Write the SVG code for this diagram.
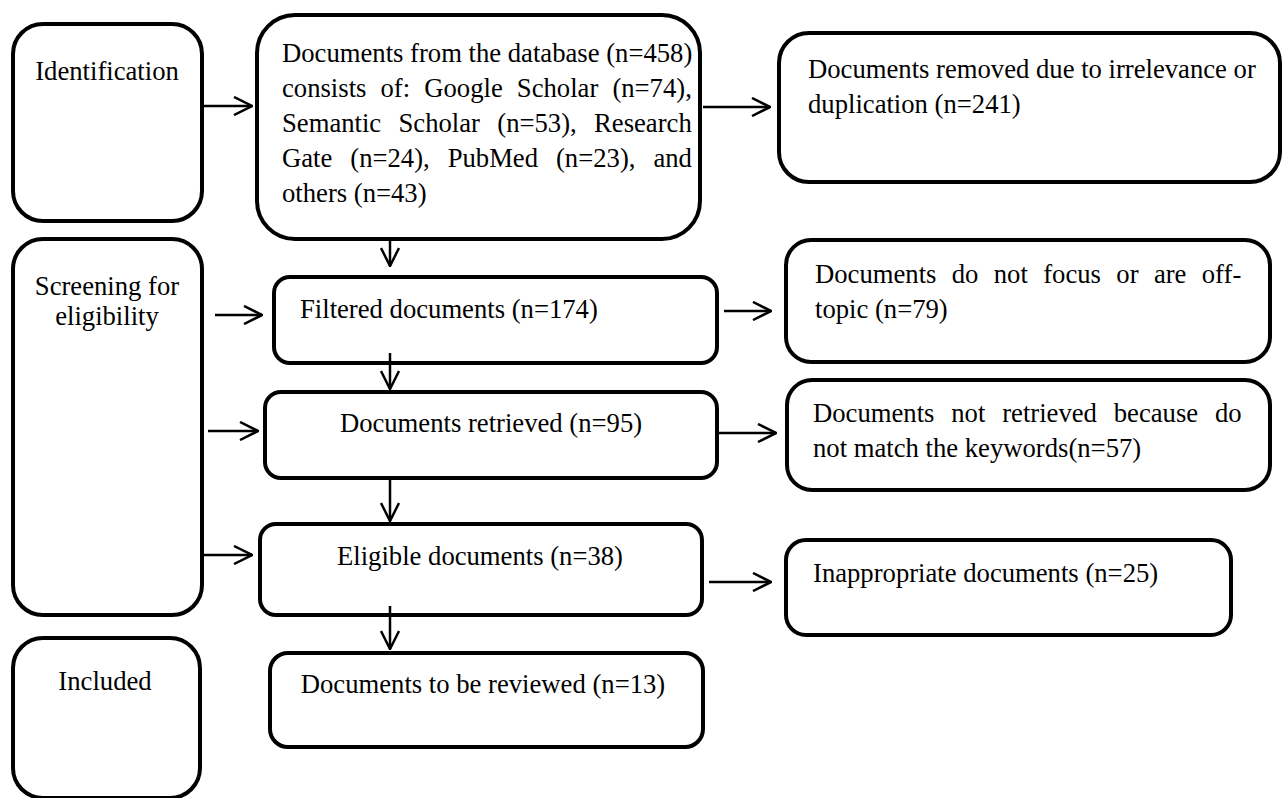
<svg xmlns="http://www.w3.org/2000/svg" width="1282" height="798" viewBox="0 0 1282 798">
<style>
.box{fill:#fff;stroke:#000;stroke-width:4}
.t{font-family:"Liberation Serif","Times New Roman",serif;font-size:26.67px;fill:#000}
.c{text-anchor:middle}
.conn line{stroke:#000;stroke-width:2.5;fill:none;marker-end:url(#ah)}
</style>
<defs>
<marker id="ah" viewBox="0 0 20 20" refX="19" refY="10" markerWidth="20" markerHeight="20" markerUnits="userSpaceOnUse" orient="auto">
<path d="M1,1 L19,10 L1,19" fill="none" stroke="#000" stroke-width="2.5"/>
</marker>
</defs>
<rect width="1282" height="798" fill="#fff"/>
<g id="ident"><rect class="box" x="13" y="24" width="189" height="197" rx="30"/><text class="t c" x="107" y="80">Identification</text></g>
<g id="db"><rect class="box" x="257" y="15" width="443" height="224" rx="38"/>
<text class="t" x="282" y="62">Documents from the database (n=458)</text>
<text class="t" x="282" y="97" word-spacing="7.45">consists of: Google Scholar (n=74),</text>
<text class="t" x="282" y="132" word-spacing="10.67">Semantic Scholar (n=53), Research</text>
<text class="t" x="282" y="167" word-spacing="11.3">Gate (n=24), PubMed (n=23), and</text>
<text class="t" x="282" y="202">others (n=43)</text></g>
<g id="removed"><rect class="box" x="779" y="33" width="501" height="149" rx="30"/>
<text class="t" x="808" y="78">Documents removed due to irrelevance or</text>
<text class="t" x="808" y="113">duplication (n=241)</text></g>
<g id="screening"><rect class="box" x="13" y="239" width="189" height="376" rx="30"/>
<text class="t c" x="107" y="295">Screening for</text><text class="t c" x="107" y="325">eligibility</text></g>
<g id="filtered"><rect class="box" x="274" y="277" width="443" height="86" rx="16"/>
<text class="t" x="300" y="318">Filtered documents (n=174)</text></g>
<g id="focus"><rect class="box" x="786" y="240" width="484" height="122" rx="25"/>
<text class="t" x="815" y="283" word-spacing="8.7">Documents do not focus or are off-</text>
<text class="t" x="815" y="318">topic (n=79)</text></g>
<g id="retrieved"><rect class="box" x="265" y="392" width="452" height="86" rx="16"/>
<text class="t c" x="491" y="432">Documents retrieved (n=95)</text></g>
<g id="notretrieved"><rect class="box" x="787" y="380" width="483" height="110" rx="25"/>
<text class="t" x="813" y="422" word-spacing="10.2">Documents not retrieved because do</text>
<text class="t" x="813" y="457">not match the keywords(n=57)</text></g>
<g id="eligible"><rect class="box" x="260" y="524" width="442" height="91" rx="16"/>
<text class="t c" x="480" y="565">Eligible documents (n=38)</text></g>
<g id="inappropriate"><rect class="box" x="786" y="540" width="445" height="95" rx="20"/>
<text class="t" x="813" y="582">Inappropriate documents (n=25)</text></g>
<g id="included"><rect class="box" x="13" y="638" width="187" height="160" rx="30"/>
<text class="t c" x="105" y="690">Included</text></g>
<g id="reviewed"><rect class="box" x="270" y="653" width="433" height="94" rx="18"/>
<text class="t c" x="483" y="693">Documents to be reviewed (n=13)</text></g>
<g id="connectors" class="conn">
<line x1="202" y1="106" x2="252" y2="106"/>
<line x1="703" y1="107" x2="770" y2="107"/>
<line x1="390" y1="239" x2="390" y2="266"/>
<line x1="215" y1="315" x2="262" y2="315"/>
<line x1="724" y1="311" x2="771" y2="311"/>
<line x1="390" y1="353" x2="390" y2="389"/>
<line x1="208" y1="431" x2="258" y2="431"/>
<line x1="717" y1="433" x2="776" y2="433"/>
<line x1="390" y1="478" x2="390" y2="521"/>
<line x1="203" y1="555" x2="252" y2="555"/>
<line x1="709" y1="582" x2="771" y2="582"/>
<line x1="390" y1="606" x2="390" y2="649"/>
</g>
</svg>
